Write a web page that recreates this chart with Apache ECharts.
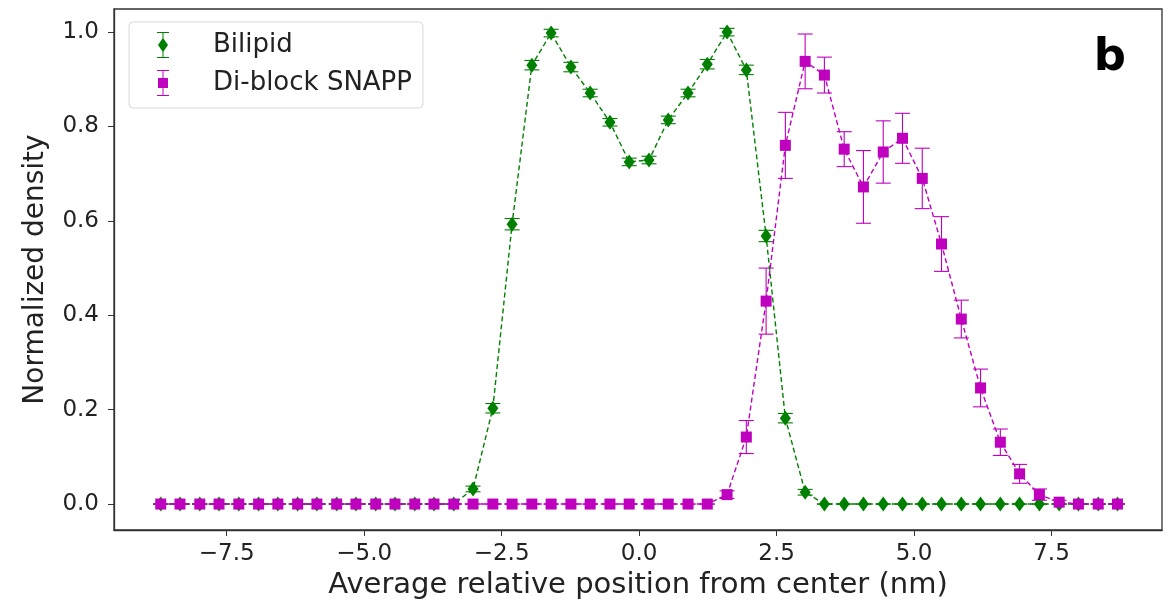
<!DOCTYPE html>
<html><head><meta charset="utf-8">
<script src="https://cdn.jsdelivr.net/npm/echarts@6/dist/echarts.min.js"></script>
<style>html,body{margin:0;padding:0;background:#fff}#c{width:1176px;height:602px}</style>
</head><body><div id="c"></div>
<script>
const positions = [-8.70,-8.35,-7.99,-7.64,-7.28,-6.92,-6.57,-6.21,-5.86,-5.50,-5.15,-4.79,-4.44,-4.08,-3.73,-3.37,-3.02,-2.66,-2.31,-1.95,-1.60,-1.24,-0.89,-0.53,-0.18,0.18,0.53,0.89,1.24,1.60,1.95,2.31,2.66,3.02,3.37,3.73,4.08,4.44,4.79,5.15,5.50,5.86,6.21,6.57,6.92,7.28,7.64,7.99,8.35,8.70];
const bilipid = [0,0,0,0,0,0,0,0,0,0,0,0,0,0,0,0,0.032,0.203,0.593,0.930,0.998,0.926,0.871,0.809,0.725,0.729,0.814,0.871,0.932,1.0,0.920,0.568,0.182,0.025,0,0,0,0,0,0,0,0,0,0,0,0,0,0,0,0];
const bilipidErr = [0,0,0,0,0,0,0,0,0,0,0,0,0,0,0,0,0.006,0.01,0.012,0.01,0.008,0.01,0.008,0.008,0.008,0.008,0.008,0.008,0.01,0.008,0.01,0.012,0.01,0.006,0,0,0,0,0,0,0,0,0,0,0,0,0,0,0,0];
const snapp = [0,0,0,0,0,0,0,0,0,0,0,0,0,0,0,0,0,0,0,0,0,0,0,0,0,0,0,0,0,0.02,0.142,0.43,0.76,0.938,0.909,0.752,0.672,0.746,0.775,0.69,0.551,0.392,0.246,0.131,0.064,0.02,0.004,0,0,0];
const snappErr = [0,0,0,0,0,0,0,0,0,0,0,0,0,0,0,0,0,0,0,0,0,0,0,0,0,0,0,0,0,0.008,0.035,0.07,0.07,0.058,0.038,0.037,0.077,0.066,0.053,0.064,0.058,0.04,0.04,0.028,0.02,0.012,0.004,0,0,0];
const xTicks = [-7.5,-5.0,-2.5,0.0,2.5,5.0,7.5];
const yTicks = [0.0,0.2,0.4,0.6,0.8,1.0];
const GREEN = '#008000', MAG = '#bf00bf';
const FONT = 'DejaVu Sans';

function errSeries(name, ys, es, color){
  return {
    type:'custom', name:name, z:3,
    data: positions.map((x,i)=>[x, ys[i], es[i]]),
    renderItem:function(params, api){
      const x=api.value(0), y=api.value(1), e=api.value(2);
      const a=api.coord([x,y+e]), b=api.coord([x,y-e]);
      const w=7.5;
      const st={stroke:color, lineWidth:1.1};
      return {type:'group', children:[
        {type:'line', shape:{x1:a[0],y1:a[1],x2:b[0],y2:b[1]}, style:st},
        {type:'line', shape:{x1:a[0]-w,y1:a[1],x2:a[0]+w,y2:a[1]}, style:st},
        {type:'line', shape:{x1:b[0]-w,y1:b[1],x2:b[0]+w,y2:b[1]}, style:st}
      ]};
    }
  };
}
const iconDiamond = 'path://M5.5,0 L6.5,0 L6.5,6.6 L11,13 L6.5,19.4 L6.5,26 L5.5,26 L5.5,19.4 L1,13 L5.5,6.6 Z M0,0 L12,0 L12,1 L0,1 Z M0,25 L12,25 L12,26 L0,26 Z';
const iconSquare = 'path://M5.5,0 L6.5,0 L6.5,8 L11,8 L11,18 L6.5,18 L6.5,26 L5.5,26 L5.5,18 L1,18 L1,8 L5.5,8 Z M0,0 L12,0 L12,1 L0,1 Z M0,25 L12,25 L12,26 L0,26 Z';

const chart = echarts.init(document.getElementById('c'));
chart.setOption({
  animation:false,
  backgroundColor:'#fff',
  textStyle:{fontFamily:FONT},
  grid:{left:114, right:14, top:9, bottom:72, outerBoundsMode:'none', containLabel:false, show:true, borderColor:'#333', borderWidth:1.3, backgroundColor:'transparent'},
  legend:{
    left:129, top:22, orient:'vertical',
    backgroundColor:'rgba(255,255,255,0.8)', borderColor:'#d8d8d8', borderWidth:1, borderRadius:4,
    padding:[10,11,12,28], itemGap:12, itemWidth:12, itemHeight:26,
    textStyle:{fontFamily:FONT, fontSize:26, color:'#222', padding:[0,0,0,39]},
    data:[{name:'Bilipid', icon:iconDiamond, itemStyle:{color:GREEN}}, {name:'Di-block SNAPP', icon:iconSquare, itemStyle:{color:MAG}}]
  },
  xAxis:{
    type:'value', min:-9.55, max:9.51,
    name:'Average relative position from center (nm)', nameLocation:'middle', nameGap:35,
    nameTextStyle:{fontFamily:FONT, fontSize:29, color:'#222'},
    axisLine:{show:true, onZero:false, lineStyle:{color:'#333', width:1.3}},
    axisTick:{show:true, length:6, inside:false, customValues:xTicks, lineStyle:{color:'#333'}},
    axisLabel:{customValues:xTicks, fontFamily:FONT, fontSize:23, color:'#222', margin:13,
      formatter:v=>(v<0?'\u2212':'')+Math.abs(v).toFixed(1)},
    splitLine:{show:false}
  },
  yAxis:{
    type:'value', min:-0.055, max:1.049,
    name:'Normalized density', nameLocation:'middle', nameGap:64, nameRotate:90,
    nameTextStyle:{fontFamily:FONT, fontSize:28, color:'#222'},
    axisLine:{show:true, onZero:false, lineStyle:{color:'#333', width:1.3}},
    axisTick:{show:true, length:6, customValues:yTicks, lineStyle:{color:'#333'}},
    axisLabel:{customValues:yTicks, fontFamily:FONT, fontSize:23, color:'#222', margin:15,
      formatter:v=>v.toFixed(1)},
    splitLine:{show:false}
  },
  graphic:[{type:'text', right:50, top:36, style:{text:'b', font:'bold 45px "DejaVu Sans"', fill:'#000'}}],
  series:[
    errSeries('Bilipid', bilipid, bilipidErr, GREEN),
    {type:'line', name:'Bilipid', z:4, data:positions.map((x,i)=>[x,bilipid[i]]),
     color:GREEN, symbol:'diamond', symbolSize:[11,15],
     lineStyle:{color:GREEN, width:1.4, type:[5,3]}, itemStyle:{color:GREEN}},
    errSeries('Di-block SNAPP', snapp, snappErr, MAG),
    {type:'line', name:'Di-block SNAPP', z:5, data:positions.map((x,i)=>[x,snapp[i]]),
     color:MAG, symbol:'rect', symbolSize:11,
     lineStyle:{color:MAG, width:1.4, type:[5,3]}, itemStyle:{color:MAG}}
  ]
});
</script></body></html>
